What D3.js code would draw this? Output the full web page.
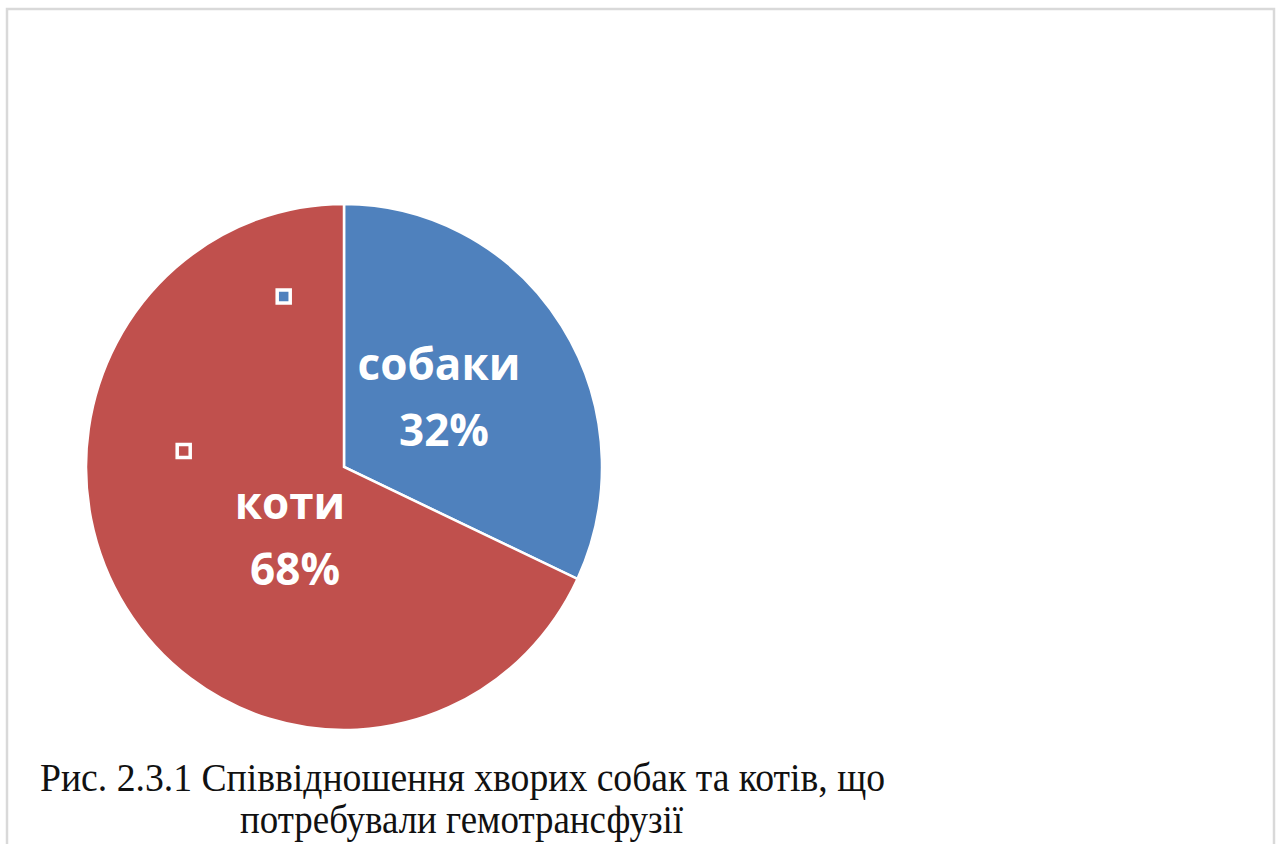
<!DOCTYPE html>
<html>
<head>
<meta charset="utf-8">
<script src="https://cdn.jsdelivr.net/npm/d3@7"></script>
<style>
  html, body { margin: 0; padding: 0; background: #ffffff; }
  svg { display: block; }
</style>
</head>
<body>
<svg id="chart" width="1279" height="844"></svg>
<script>
// Share of sick dogs and cats that needed a blood transfusion
const categories = ["собаки", "коти"];
const shares = [32, 68];
const colors = ["#4F81BD", "#C0504D"];
const captionLines = [
  "Рис. 2.3.1 Співвідношення хворих собак та котів, що",
  "потребували гемотрансфузії"
];

const svg = d3.select("#chart");

// outer frame of the chart area
svg.append("rect")
  .attr("x", 7).attr("y", 9)
  .attr("width", 1267).attr("height", 900)
  .attr("fill", "none")
  .attr("stroke", "#d9d9d9")
  .attr("stroke-width", 2.5);

const cx = 344, cy = 467;
const rx = 258, ry = 263;

const data = categories.map((c, i) => ({ name: c, value: shares[i], color: colors[i] }));

const pie = d3.pie().value(d => d.value).sort(null);
const arcs = pie(data);
const arc = d3.arc().innerRadius(0).outerRadius(rx);

const g = svg.append("g")
  .attr("transform", `translate(${cx},${cy}) scale(1,${ry / rx})`);

g.selectAll("path.slice")
  .data(arcs)
  .enter().append("path")
  .attr("class", "slice")
  .attr("d", arc)
  .attr("fill", d => d.data.color)
  .attr("stroke", "#ffffff")
  .attr("stroke-width", 2.5)
  .attr("vector-effect", "non-scaling-stroke");

// data labels: category name and percentage, placed inside each slice
const labelPolar = [
  { angle: 60, radius: 112 },
  { angle: 212, radius: 98 }
];
const labels = svg.append("g");
arcs.forEach((a, i) => {
  const p = labelPolar[i];
  const t = p.angle * Math.PI / 180;
  const lx = cx + p.radius * Math.sin(t);
  const ly = cy - p.radius * Math.cos(t);
  const txt = labels.append("text")
    .attr("text-anchor", "middle")
    .attr("font-family", "'Open Sans', sans-serif")
    .attr("font-weight", "bold")
    .attr("font-size", 44)
    .attr("fill", "#ffffff");
  txt.append("tspan").attr("x", lx - 2).attr("y", ly - 31).text(a.data.name);
  txt.append("tspan").attr("x", lx + 3).attr("y", ly + 35).text(Math.round(a.value) + "%");
});

// legend markers
const legendPos = [
  { x: 283.7, y: 296.5 },
  { x: 183.7, y: 451 }
];
svg.append("g").selectAll("rect")
  .data(data)
  .enter().append("rect")
  .attr("x", (d, i) => legendPos[i].x - 6.5)
  .attr("y", (d, i) => legendPos[i].y - 6.5)
  .attr("width", 13)
  .attr("height", 13)
  .attr("fill", d => d.color)
  .attr("stroke", "#ffffff")
  .attr("stroke-width", 3.5);

// figure caption
const capX = [40, 240], capY = [791, 833], capW = [845, 443];
svg.append("g").selectAll("text")
  .data(captionLines)
  .enter().append("text")
  .attr("x", (d, i) => capX[i])
  .attr("y", (d, i) => capY[i])
  .attr("font-family", "'Liberation Serif', 'Times New Roman', serif")
  .attr("font-size", 41)
  .attr("fill", "#111111")
  .attr("textLength", (d, i) => capW[i])
  .attr("lengthAdjust", "spacingAndGlyphs")
  .text(d => d);
</script>
</body>
</html>
